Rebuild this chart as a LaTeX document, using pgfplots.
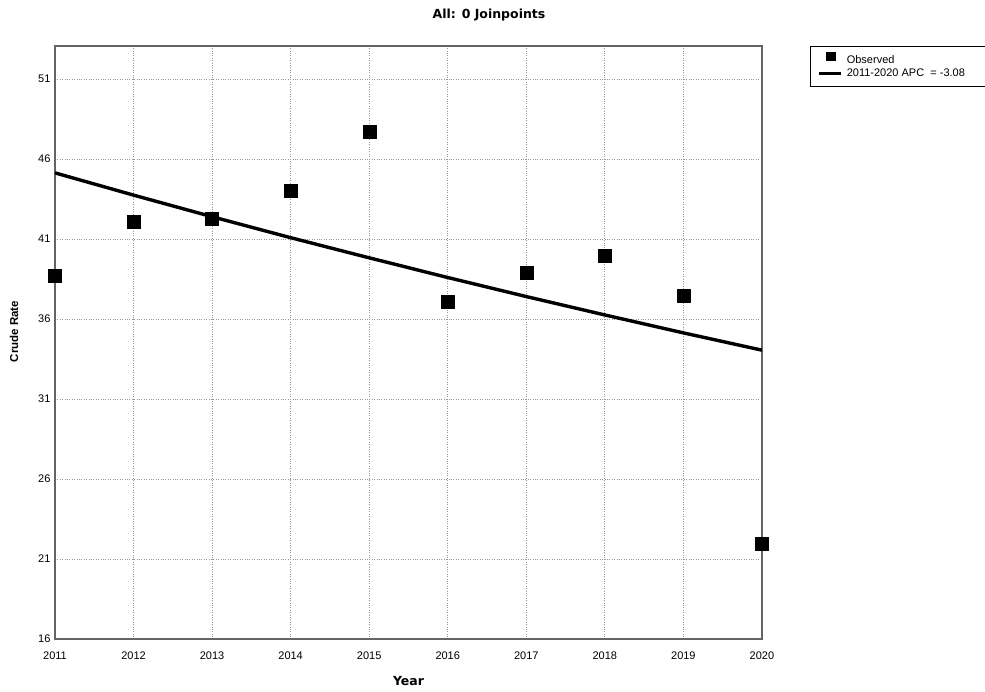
\documentclass[border=0pt]{standalone}
\usepackage{fontspec}
\setmainfont{Liberation Sans}
\newfontfamily\dvs{DejaVu Sans}
\usepackage{pgfplots}
\pgfplotsset{compat=1.18}
\definecolor{frame}{RGB}{100,100,100}
\definecolor{gridc}{RGB}{150,150,150}
\begin{document}
\begin{tikzpicture}[x=1pt,y=1pt]
\path[use as bounding box] (-55,-53) rectangle (930,639);
\begin{axis}[
  at={(0,0)}, anchor=south west,
  scale only axis, width=707pt, height=593pt,
  xmin=2011, xmax=2020, ymin=16, ymax=53.06,
  xtick={2011,...,2020}, ytick={16,21,...,51},
  /pgf/number format/1000 sep={},
  /pgf/number format/assume math mode=true,
  tick style={draw=none},
  ticklabel style={font=\fontsize{11}{13}\selectfont},
  xticklabel style={yshift=-9pt},
  yticklabel style={xshift=-1pt},
  axis line style={draw=frame, line width=1.6pt},
  grid=major,
  major grid style={gridc, dotted, line width=0.8pt},
  title={All: 0 Joinpoints},
  title style={at={(0.6139,1)}, anchor=center, yshift=25pt, font=\dvs\bfseries\fontsize{12.5}{14}\selectfont},
  xlabel={Year},
  xlabel style={at={(0.5,0)}, anchor=center, yshift=-42pt, font=\dvs\bfseries\fontsize{12.5}{14}\selectfont},
  ylabel={\textbf{Crude Rate}},
  ylabel style={at={(0,0.5)}, anchor=center, yshift=41pt, xshift=11pt, font=\fontsize{11.5}{14}\selectfont},
  legend style={at={(rel axis cs:1.0679,1)}, anchor=north west, draw=black, line width=0.8pt,
    font=\fontsize{11}{12}\selectfont, row sep=0pt, inner xsep=7pt, inner ysep=6pt,
    cells={anchor=west}},
  legend cell align=left,
]
\addplot[only marks, mark=square*, mark size=6.5pt, black, mark options={fill=black},
  legend image code/.code={\path[draw=none,fill=none] (0pt,0pt) -- (26pt,0pt); \fill[black] (8pt,-0.5pt) rectangle (17pt,7.5pt);}]
  coordinates {
  (2011,38.69) (2012,42.06) (2013,42.25) (2014,44.0) (2015,47.69)
  (2016,37.06) (2017,38.88) (2018,39.94) (2019,37.44) (2020,21.94)};
\addlegendentry{Observed}
\addplot[black, line width=3.4pt, mark=none,
  legend image code/.code={\path[draw=none] (0pt,0pt) -- (26pt,0pt); \draw[black, line width=2.8pt] (0pt,0pt) -- (22pt,0pt);}]
  coordinates {
  (2011,45.13) (2012,43.74) (2013,42.39) (2014,41.08) (2015,39.82)
  (2016,38.59) (2017,37.40) (2018,36.25) (2019,35.13) (2020,34.05)};
\addlegendentry{\makebox[150pt][l]{2011-2020 APC \ = -3.08}}
\end{axis}
\end{tikzpicture}
\end{document}
